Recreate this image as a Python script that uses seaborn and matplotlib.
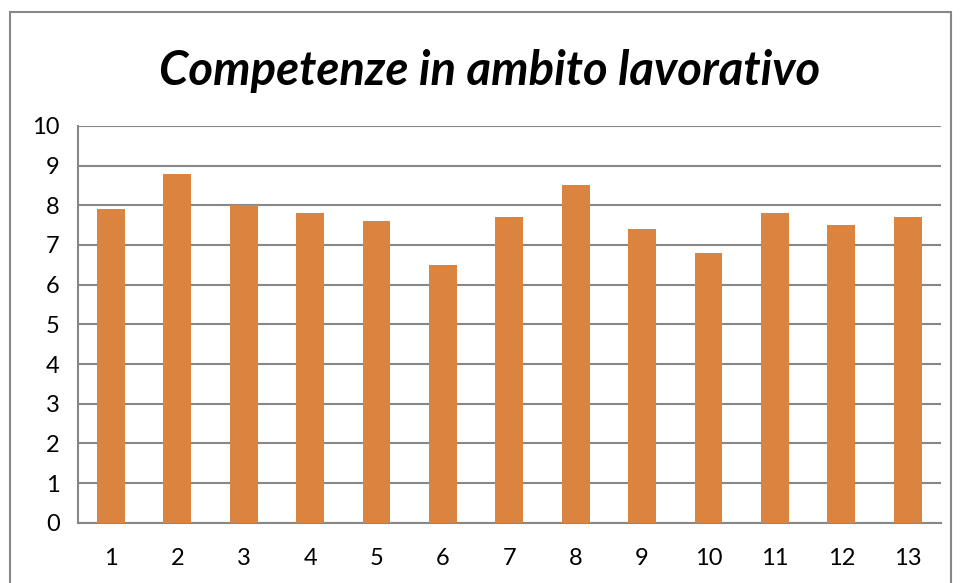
import numpy as np
import pandas as pd
import matplotlib
matplotlib.use('Agg')
import matplotlib.pyplot as plt
from matplotlib.patches import Rectangle
import seaborn as sns

categorie = ['1', '2', '3', '4', '5', '6', '7', '8', '9', '10', '11', '12', '13']
valori = [7.9, 8.8, 8.0, 7.8, 7.6, 6.5, 7.7, 8.5, 7.4, 6.8, 7.8, 7.5, 7.7]
titolo = 'Competenze in ambito lavorativo'

df = pd.DataFrame({'cat': categorie, 'val': valori})

sns.set_style('white')
plt.rcParams['font.family'] = ['Lato', 'DejaVu Sans']

grigio = '#878787'
fig = plt.figure(figsize=(9.6, 5.83), dpi=100)
ax = fig.add_axes([0.081, 0.1034, 0.899, 0.6806])

sns.barplot(data=df, x='cat', y='val', color='#DB843F', saturation=1,
            width=0.42, ax=ax, zorder=3, linewidth=0)

ax.set_ylim(0, 10)
ax.set_xlim(-0.5, len(categorie) - 0.5)
ax.set_yticks(range(0, 11))
ax.yaxis.grid(True, color=grigio, linewidth=1.5, zorder=0)
ax.set_axisbelow(True)
ax.set_xlabel('')
ax.set_ylabel('')

for s in ['top', 'right']:
    ax.spines[s].set_visible(False)
for s in ['left', 'bottom']:
    ax.spines[s].set_color(grigio)
    ax.spines[s].set_linewidth(1.5)

ax.tick_params(axis='y', length=6, width=1.5, color=grigio, labelsize=17,
               labelcolor='black', pad=7)
ax.tick_params(axis='x', which='major', length=0, labelsize=17,
               labelcolor='black', pad=18)
ax.set_xticks(np.arange(-0.5, len(categorie)), minor=True)
ax.tick_params(axis='x', which='minor', length=6, width=1.5, color=grigio,
               direction='out')

fig.text(0.51, 0.879, titolo, ha='center', va='center', fontsize=34,
         fontweight='bold', fontstyle='italic', color='black')

fig.patches.append(Rectangle((10 / 960, -0.05), 941 / 960, (583 - 12) / 583 + 0.05,
                             transform=fig.transFigure, fill=False,
                             edgecolor=grigio, linewidth=1.5))

fig.savefig('out.png', dpi=100)
